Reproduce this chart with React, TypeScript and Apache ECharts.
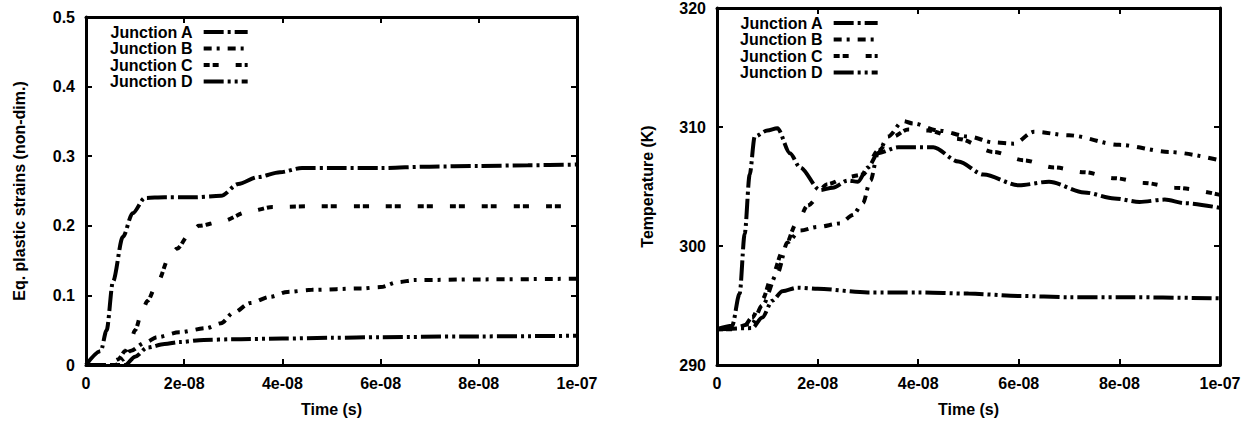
import React, { useEffect, useRef } from "react";
import * as echarts from "echarts";

// ---- Data (time in seconds) ----
const junctionNames = ["Junction A", "Junction B", "Junction C", "Junction D"];
const timeTicks = [0, 2e-8, 4e-8, 6e-8, 8e-8, 1e-7];

// Left panel: equivalent plastic strains
const strainA: [number, number][] = [
  [0, 0], [0.3e-8, 0.02], [0.42e-8, 0.05], [0.55e-8, 0.12], [0.75e-8, 0.184], [0.95e-8, 0.218],
  [1.2e-8, 0.24], [1.6e-8, 0.241], [2.2e-8, 0.241], [2.75e-8, 0.243], [3.1e-8, 0.26], [3.5e-8, 0.27],
  [3.95e-8, 0.277], [4.4e-8, 0.283], [5e-8, 0.283], [6e-8, 0.283], [7e-8, 0.285], [8e-8, 0.286],
  [9e-8, 0.287], [1e-7, 0.288],
];
const strainB: [number, number][] = [
  [0, 0], [0.6e-8, 0], [0.75e-8, 0.008], [0.9e-8, 0.02], [1.2e-8, 0.032], [1.45e-8, 0.04],
  [1.9e-8, 0.047], [2.45e-8, 0.053], [2.75e-8, 0.06], [3e-8, 0.075], [3.35e-8, 0.089], [3.75e-8, 0.098],
  [4.1e-8, 0.105], [4.6e-8, 0.108], [5.6e-8, 0.11], [6e-8, 0.112], [6.35e-8, 0.119], [6.7e-8, 0.122],
  [8e-8, 0.123], [1e-7, 0.124],
];
const strainC: [number, number][] = [
  [0, 0], [0.45e-8, 0], [0.65e-8, 0.008], [0.8e-8, 0.02], [0.9e-8, 0.033], [1e-8, 0.05],
  [1.15e-8, 0.079], [1.25e-8, 0.092], [1.45e-8, 0.118], [1.7e-8, 0.155], [1.85e-8, 0.167],
  [2.1e-8, 0.187], [2.3e-8, 0.2], [2.75e-8, 0.206], [3.3e-8, 0.22], [3.8e-8, 0.227], [4.5e-8, 0.228],
  [6e-8, 0.228], [8e-8, 0.228], [1e-7, 0.228],
];
const strainD: [number, number][] = [
  [0, 0], [0.8e-8, 0], [1e-8, 0.012], [1.25e-8, 0.025], [1.6e-8, 0.03], [1.9e-8, 0.033],
  [2.4e-8, 0.036], [3e-8, 0.037], [4e-8, 0.038], [5e-8, 0.039], [6e-8, 0.04], [7.7e-8, 0.041],
  [1e-7, 0.042],
];

// Right panel: temperature (K)
const tempA: [number, number][] = [
  [0, 293], [0.3e-8, 293.3], [0.45e-8, 296], [0.55e-8, 301], [0.65e-8, 306], [0.75e-8, 309.2],
  [1e-8, 309.7], [1.2e-8, 309.9], [1.45e-8, 307.8], [1.65e-8, 306.6], [2.05e-8, 304.7], [2.3e-8, 304.9],
  [2.6e-8, 305.5], [2.8e-8, 305.4], [3e-8, 306.6], [3.2e-8, 307.8], [3.6e-8, 308.3], [4.3e-8, 308.3],
  [4.8e-8, 307.1], [5.3e-8, 306], [6e-8, 305.1], [6.6e-8, 305.4], [7.3e-8, 304.5], [7.9e-8, 304],
  [8.4e-8, 303.7], [8.9e-8, 303.9], [9.3e-8, 303.6], [1e-7, 303.2],
];
const tempB: [number, number][] = [
  [0, 293], [0.4e-8, 293.2], [0.7e-8, 293.5], [0.9e-8, 295], [1.2e-8, 297.7], [1.4e-8, 300.3],
  [1.65e-8, 301.3], [2e-8, 301.6], [2.45e-8, 301.9], [2.7e-8, 302.6], [2.9e-8, 303.6], [3.05e-8, 305.5],
  [3.2e-8, 307.8], [3.4e-8, 309.2], [3.7e-8, 310.5], [3.9e-8, 310.3], [4.4e-8, 309.7], [5e-8, 309.2],
  [5.5e-8, 308.7], [5.9e-8, 308.6], [6.3e-8, 309.6], [7e-8, 309.3], [8e-8, 308.5], [9e-8, 307.9],
  [1e-7, 307.2],
];
const tempC: [number, number][] = [
  [0, 293], [0.5e-8, 293], [0.7e-8, 294], [0.9e-8, 295.5], [1.1e-8, 297.5], [1.3e-8, 299.5],
  [1.6e-8, 302], [1.8e-8, 303.4], [2.2e-8, 305.2], [2.6e-8, 305.8], [2.9e-8, 306], [3.2e-8, 308],
  [3.5e-8, 309.2], [3.8e-8, 309.8], [4.2e-8, 309.7], [4.8e-8, 309], [5.5e-8, 307.9], [6.1e-8, 307.2],
  [6.7e-8, 306.6], [7.3e-8, 306.2], [7.9e-8, 305.7], [8.5e-8, 305.3], [9.1e-8, 304.9], [1e-7, 304.3],
];
const tempD: [number, number][] = [
  [0, 293], [0.7e-8, 293.1], [0.9e-8, 294], [1.1e-8, 295.4], [1.3e-8, 296.2], [1.6e-8, 296.5],
  [2e-8, 296.4], [3e-8, 296.1], [4e-8, 296.1], [5e-8, 296], [6e-8, 295.8], [7e-8, 295.7],
  [8e-8, 295.7], [1e-7, 295.6],
];

const strainSeries = [strainA, strainB, strainC, strainD];
const tempSeries = [tempA, tempB, tempC, tempD];

// dash patterns per junction
const dashes = [
  [20, 4, 3, 4],
  [8, 5, 3, 8],
  [6, 3, 6, 17],
  [20, 4, 3, 4, 3, 4],
];

const FONT = "'Liberation Sans', Arial, Helvetica, sans-serif";

const fmtTime = (v: number) =>
  Math.abs(v) < 1e-15 ? "0" : v.toExponential(0).replace(/e([+-])(\d)$/, "e$10$2");

function buildOption() {
  const labelStyle = { color: "#000", fontSize: 16, fontWeight: "bold", fontFamily: FONT };
  const nameStyle = { color: "#000", fontSize: 16, fontWeight: "bold", fontFamily: FONT };
  const line = { show: true, onZero: false, lineStyle: { color: "#000", width: 3 } };
  const tick = { show: true, inside: true, length: 6, lineStyle: { color: "#000", width: 2 } };

  const grids = [
    { left: 86, top: 17, width: 491, height: 348 },
    { left: 717, top: 8, width: 503, height: 357 },
  ];

  const xAxis: any[] = [];
  const yAxis: any[] = [];
  const yCfg = [
    { min: 0, max: 0.5, interval: 0.1, name: "Eq. plastic strains (non-dim.)", gap: 59 },
    { min: 290, max: 320, interval: 10, name: "Temperature (K)", gap: 62 },
  ];
  grids.forEach((_, gi) => {
    xAxis.push({
      type: "value", gridIndex: gi, position: "bottom", min: timeTicks[0],
      max: timeTicks[timeTicks.length - 1], interval: timeTicks[1] - timeTicks[0],
      axisLine: line, axisTick: tick, splitLine: { show: false },
      axisLabel: { ...labelStyle, margin: 10, formatter: fmtTime },
      name: "Time (s)", nameLocation: "middle", nameGap: 36, nameTextStyle: nameStyle,
    });
    xAxis.push({
      type: "value", gridIndex: gi, position: "top", min: timeTicks[0],
      max: timeTicks[timeTicks.length - 1], interval: timeTicks[1] - timeTicks[0],
      axisLine: line, axisTick: tick, splitLine: { show: false }, axisLabel: { show: false },
    });
    const c = yCfg[gi];
    yAxis.push({
      type: "value", gridIndex: gi, position: "left", min: c.min, max: c.max, interval: c.interval,
      axisLine: line, axisTick: tick, splitLine: { show: false },
      axisLabel: { ...labelStyle, margin: 11 },
      name: c.name, nameLocation: "middle", nameRotate: 90, nameGap: c.gap, nameTextStyle: nameStyle,
    });
    yAxis.push({
      type: "value", gridIndex: gi, position: "right", min: c.min, max: c.max, interval: c.interval,
      axisLine: line, axisTick: tick, splitLine: { show: false }, axisLabel: { show: false },
    });
  });

  const series: any[] = [];
  [strainSeries, tempSeries].forEach((set, gi) => {
    set.forEach((data, i) => {
      series.push({
        type: "line", name: junctionNames[i], xAxisIndex: gi * 2, yAxisIndex: gi * 2,
        data, symbol: "none", showSymbol: false, smooth: 0.3, smoothMonotone: "x",
        lineStyle: { color: "#000", width: 4, type: dashes[i], cap: "butt" },
        itemStyle: { color: "#000" },
        z: 2,
      });
    });
  });

  const legendBase = {
    orient: "vertical", align: "right", itemWidth: 44, itemHeight: 14, itemGap: 0.5,
    padding: 0, selectedMode: false, data: junctionNames,
    itemStyle: { opacity: 0 },
    lineStyle: { width: 4, color: "#000", cap: "butt" },
    textStyle: { color: "#000", fontSize: 16, fontWeight: "bold", fontFamily: FONT, lineHeight: 16, padding: [0, 6, 0, 0] },
  };

  return {
    animation: false,
    backgroundColor: "#fff",
    grid: grids,
    xAxis,
    yAxis,
    series,
    legend: [
      { ...legendBase, left: 110, top: 24 },
      { ...legendBase, left: 740, top: 15 },
    ],
  };
}

export default function App() {
  const ref = useRef<HTMLDivElement>(null);
  useEffect(() => {
    if (!ref.current) return;
    const chart = echarts.init(ref.current, undefined, { renderer: "svg" });
    chart.setOption(buildOption() as any);
    return () => chart.dispose();
  }, []);
  return (
    <div
      ref={ref}
      style={{ position: "fixed", left: 0, top: 0, width: 1250, height: 423, background: "#fff" }}
    />
  );
}
